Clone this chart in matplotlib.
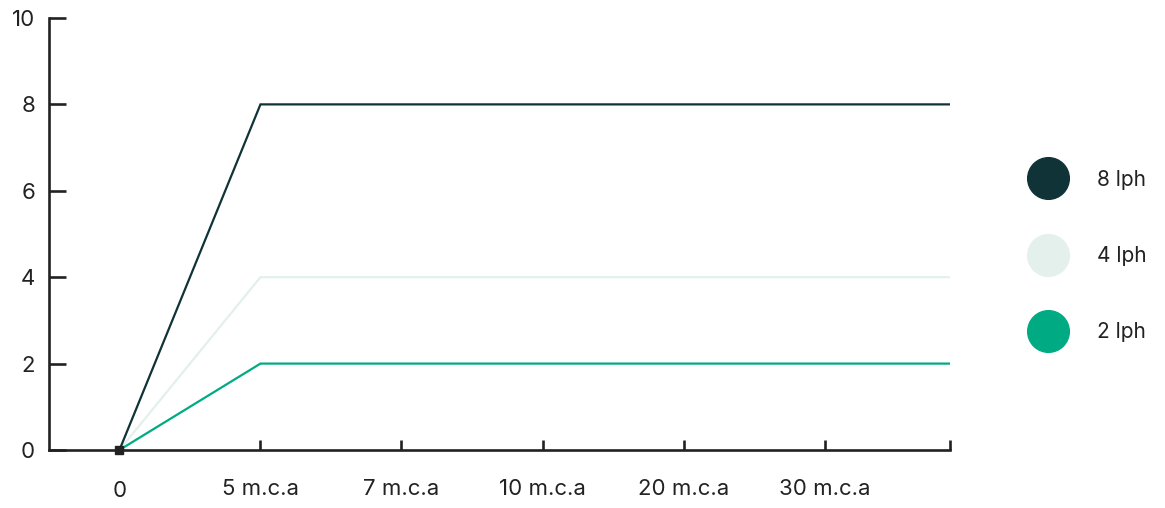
import matplotlib.pyplot as plt
from matplotlib.lines import Line2D

plt.rcParams['font.family'] = ['Inter', 'DejaVu Sans']

# categorías del eje x (la última vacía: la línea sigue hasta el borde)
categories = ['0', '5 m.c.a', '7 m.c.a', '10 m.c.a', '20 m.c.a', '30 m.c.a', '']
series_names = ['8 lph', '4 lph', '2 lph']
flow_8 = [0, 8, 8, 8, 8, 8, 8]
flow_4 = [0, 4, 4, 4, 4, 4, 4]
flow_2 = [0, 2, 2, 2, 2, 2, 2]
colors = ['#0f3336', '#e3f0ec', '#00ab84']
y_ticks = [0, 2, 4, 6, 8, 10]

fig = plt.figure(figsize=(11.65, 5.08), dpi=100)
ax = fig.add_axes([0.042, 0.1142, 0.7735, 0.8504])

x = list(range(len(categories)))
# orden de dibujo: la clara primero
for vals, col in [(flow_4, colors[1]), (flow_2, colors[2]), (flow_8, colors[0])]:
    ax.plot(x, vals, color=col, lw=1.6, solid_joinstyle='miter')
ax.plot([x[0]], [flow_8[0]], marker='s', color='#222222', ms=5.5, clip_on=False, zorder=5)

ax.set_xlim(-0.5, 5.89)
ax.set_ylim(0, 10)
ax.set_xticks(x[1:-1])
ax.set_xticklabels(categories[1:-1])
ax.set_xticks([5.89], minor=True)
ax.set_yticks(y_ticks)
ax.set_yticklabels([str(v) for v in y_ticks])
# etiqueta "0" del eje x (sin marca)
ax.text(0, -0.94, categories[0], ha='center', va='center', fontsize=16, color='#222222')

for s in ['top', 'right']:
    ax.spines[s].set_visible(False)
for s in ['left', 'bottom']:
    ax.spines[s].set_linewidth(1.9)
    ax.spines[s].set_color('#222222')
ax.tick_params(axis='y', direction='in', length=12, width=1.9, color='#222222',
               labelsize=16, labelcolor='#222222', pad=10)
ax.tick_params(axis='x', which='both', direction='in', length=7, width=1.9, color='#222222',
               labelsize=16, labelcolor='#222222', pad=21)

handles = [Line2D([], [], marker='o', ls='', ms=30, color=c) for c in colors]
ax.legend(handles, series_names, loc='center left', bbox_to_anchor=(1.092, 0.449),
          frameon=False, fontsize=15, labelspacing=2.7, handletextpad=1.6,
          handlelength=1.45, borderpad=0, borderaxespad=0, labelcolor='#222222')

fig.savefig('out.png', dpi=100)
